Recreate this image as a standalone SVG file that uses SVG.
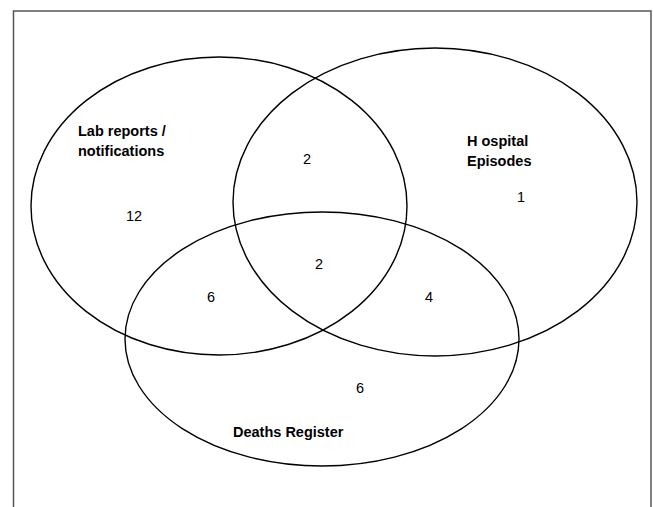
<svg xmlns="http://www.w3.org/2000/svg" width="653" height="507" viewBox="0 0 653 507">
<style>
.frame{fill:none;stroke:#555;stroke-width:1.5}
.set{fill:none;stroke:#000;stroke-width:1.4}
.lbl{font-family:"Liberation Sans",Arial,sans-serif;font-size:14.5px;font-weight:bold;fill:#000}
.num{font-family:"Liberation Sans",Arial,sans-serif;font-size:14.5px;fill:#000}
</style>
<rect width="653" height="507" fill="#fff"/>
<path class="frame" d="M13.5,510 V11 H651 V510"/>
<g id="lab">
<ellipse class="set" cx="219" cy="206" rx="188" ry="149"/>
<text class="lbl" x="78" y="136">Lab reports /</text>
<text class="lbl" x="78" y="156">notifications</text>
</g>
<g id="hospital">
<ellipse class="set" cx="435" cy="202" rx="202" ry="154"/>
<text class="lbl" x="467" y="146">H ospital</text>
<text class="lbl" x="467" y="166">Episodes</text>
</g>
<g id="deaths">
<ellipse class="set" cx="322" cy="339" rx="197" ry="127"/>
<text class="lbl" x="233" y="437">Deaths Register</text>
</g>
<g id="counts">
<text class="num" x="126" y="221">12</text>
<text class="num" x="303" y="164">2</text>
<text class="num" x="517" y="202">1</text>
<text class="num" x="315" y="269">2</text>
<text class="num" x="207" y="302">6</text>
<text class="num" x="425" y="302">4</text>
<text class="num" x="356" y="393">6</text>
</g>
</svg>
